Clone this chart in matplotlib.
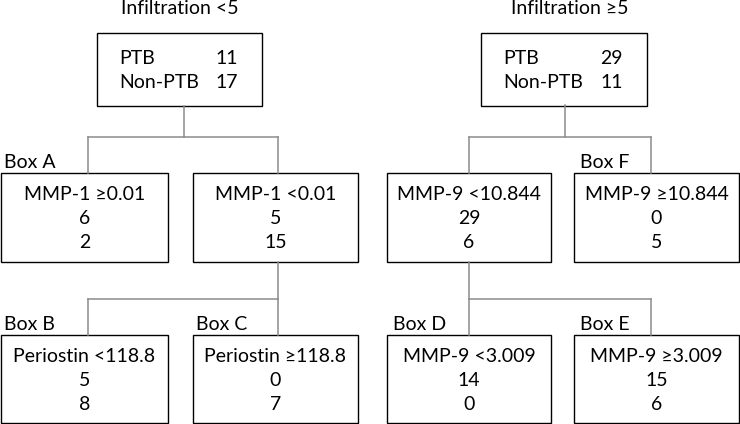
import matplotlib.pyplot as plt
from matplotlib.patches import Rectangle

plt.rcParams['font.family'] = ['Lato', 'DejaVu Sans']

# data
titles = ['Infiltration <5', 'Infiltration \u22655']
root_ptb = [11, 29]
root_non = [17, 11]
split_labels = ['MMP-1 \u22650.01', 'MMP-1 <0.01', 'MMP-9 <10.844', 'MMP-9 \u226510.844',
                'Periostin <118.8', 'Periostin \u2265118.8', 'MMP-9 <3.009', 'MMP-9 \u22653.009']
split_ptb = [6, 5, 29, 0, 5, 0, 14, 15]
split_non = [2, 15, 6, 5, 8, 7, 0, 6]
box_names = ['Box A', '', '', 'Box F', 'Box B', 'Box C', 'Box D', 'Box E']

# layout (pixels)
root_x = [(97, 262), (481, 647)]
root_y = (33, 106)
title_x = [180, 570]
child_x = [(1, 168), (193, 358), (387, 551), (574, 739),
           (1, 168), (193, 358), (387, 551), (574, 739)]
row_y = [(173, 262), (173, 262), (173, 262), (173, 262),
         (335, 423), (335, 423), (335, 423), (335, 423)]
fs = 14
line_c = '#8c8c8c'

fig = plt.figure(figsize=(7.4, 4.24), dpi=100)
ax = fig.add_axes([0, 0, 1, 1])
ax.set_xlim(0, 740)
ax.set_ylim(424, 0)
ax.axis('off')

def box(x0, x1, y0, y1):
    ax.add_patch(Rectangle((x0, y0), x1 - x0, y1 - y0, fill=False, ec='black', lw=1.0))

def mid(p):
    return (p[0] + p[1]) / 2

# roots
for i in range(2):
    x0, x1 = root_x[i]
    box(x0, x1, *root_y)
    ax.text(title_x[i], 9, titles[i], ha='center', va='center', fontsize=fs)
    ax.text(x0 + 22, 58, 'PTB', ha='left', va='center', fontsize=fs)
    ax.text(x0 + 22, 83, 'Non-PTB', ha='left', va='center', fontsize=fs)
    ax.text(x1 - 24, 58, str(root_ptb[i]), ha='right', va='center', fontsize=fs)
    ax.text(x1 - 24, 83, str(root_non[i]), ha='right', va='center', fontsize=fs)

# children boxes
for i in range(8):
    x0, x1 = child_x[i]
    y0, y1 = row_y[i]
    box(x0, x1, y0, y1)
    cx = mid(child_x[i])
    ax.text(cx, y0 + 21, split_labels[i], ha='center', va='center', fontsize=fs)
    ax.text(cx, y0 + 46, str(split_ptb[i]), ha='center', va='center', fontsize=fs)
    ax.text(cx, y0 + 70, str(split_non[i]), ha='center', va='center', fontsize=fs)
    if box_names[i]:
        ax.text(x0 + 3 + (3 if x0 > 300 else 0), y0 - 10, box_names[i],
                ha='left', va='center', fontsize=fs)

# connectors
def connect(px, py0, py1, xs, cy):
    ax.plot([px, px], [py0, py1], color=line_c, lw=1.1)
    ax.plot([min(xs), max(xs)], [py1, py1], color=line_c, lw=1.1)
    for x in xs:
        ax.plot([x, x], [py1, cy], color=line_c, lw=1.1)

connect(184, 106, 137, [88, 278], 173)
connect(565, 105, 137, [469, 651], 173)
connect(278, 262, 299, [88, 278], 335)
connect(469, 262, 299, [469, 651], 335)

fig.savefig('out.png', dpi=100)
